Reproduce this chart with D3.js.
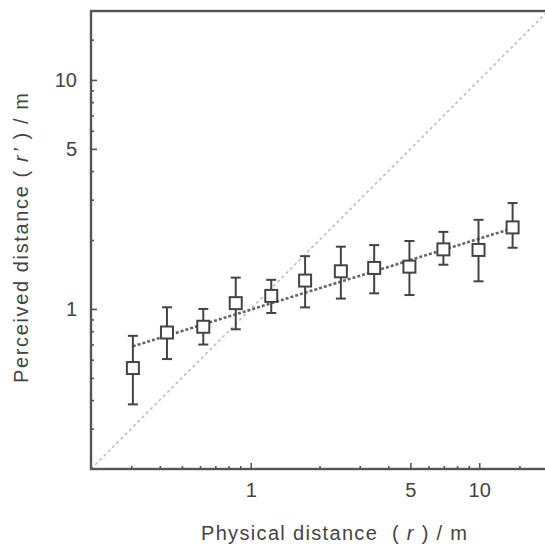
<!DOCTYPE html>
<html lang="en">
<head>
<meta charset="UTF-8">
<title>Perceived vs physical distance</title>
<script src="https://d3js.org/d3.v7.min.js"></script>
<style>
  body { margin: 0; background: #fff; }
  svg { font-family: "Liberation Sans", Arial, sans-serif; }
</style>
</head>
<body>
<div id="chart"></div>
<script>
// physical distance r (m) of each condition
var physical = [0.305, 0.43, 0.62, 0.86, 1.23, 1.73, 2.48, 3.47, 4.95, 6.97, 9.93, 14.0];
// perceived distance r' (m): mean and error bar ends
var perceived = [0.552, 0.789, 0.836, 1.06, 1.14, 1.33, 1.46, 1.51, 1.53, 1.82, 1.81, 2.27];
var upper = [0.763, 1.017, 1.0, 1.37, 1.34, 1.70, 1.87, 1.90, 1.98, 2.17, 2.45, 2.90];
var lower = [0.383, 0.604, 0.699, 0.815, 0.96, 1.016, 1.11, 1.17, 1.15, 1.56, 1.32, 1.85];
// fitted power function, drawn between its end points
var fitX = [0.305, 14.0];
var fitY = [0.687, 2.25];
// axis ticks
var majorTicks = [1, 5, 10];
var minorTicks = [0.3, 0.4, 0.5, 0.6, 0.7, 0.8, 0.9, 2, 3, 4, 6, 7, 8, 9, 15];

var width = 545, height = 548;
var margin = {top: 11, right: -3, bottom: 79, left: 91};

var svg = d3.select("#chart").append("svg")
    .attr("width", width).attr("height", height);

var x = d3.scaleLog().domain([0.2, 20]).range([margin.left, width - margin.right]);
var y = d3.scaleLog().domain([0.2, 20]).range([height - margin.bottom, margin.top]);

var axisColor = "#555";
var inkColor = "#444";

// y = x reference line
svg.append("line")
    .attr("x1", x(0.2)).attr("y1", y(0.2))
    .attr("x2", x(20)).attr("y2", y(20))
    .attr("stroke", "#bdbdbd")
    .attr("stroke-width", 1.6)
    .attr("stroke-dasharray", "3,3");

// fit line
svg.append("line")
    .attr("x1", x(fitX[0])).attr("y1", y(fitY[0]))
    .attr("x2", x(fitX[1])).attr("y2", y(fitY[1]))
    .attr("stroke", "#666")
    .attr("stroke-width", 2.6)
    .attr("stroke-dasharray", "3,2");

// frame
svg.append("rect")
    .attr("x", x(0.2)).attr("y", y(20))
    .attr("width", x(20) - x(0.2))
    .attr("height", y(0.2) - y(20))
    .attr("fill", "none")
    .attr("stroke", axisColor)
    .attr("stroke-width", 2.4);

// axes: ticks point inward
function styleAxis(g) {
    g.select(".domain").remove();
    g.selectAll(".tick line").attr("stroke", axisColor).attr("stroke-width", 1.6);
    g.selectAll(".tick text").attr("fill", inkColor).attr("font-size", 20);
}

svg.append("g")
    .attr("transform", "translate(0," + y(0.2) + ")")
    .call(d3.axisBottom(x).tickValues(majorTicks).tickFormat(d3.format("d"))
        .tickSize(-6).tickSizeOuter(0).tickPadding(14))
    .call(styleAxis);

svg.append("g")
    .attr("transform", "translate(0," + y(0.2) + ")")
    .call(d3.axisBottom(x).tickValues(minorTicks).tickFormat("")
        .tickSize(-3).tickSizeOuter(0))
    .call(styleAxis);

svg.append("g")
    .attr("transform", "translate(" + x(0.2) + ",0)")
    .call(d3.axisLeft(y).tickValues(majorTicks).tickFormat(d3.format("d"))
        .tickSize(-6).tickSizeOuter(0).tickPadding(14))
    .call(styleAxis);

svg.append("g")
    .attr("transform", "translate(" + x(0.2) + ",0)")
    .call(d3.axisLeft(y).tickValues(minorTicks).tickFormat("")
        .tickSize(-3).tickSizeOuter(0))
    .call(styleAxis);

// error bars
var capW = 5;
var bars = svg.append("g")
    .attr("stroke", inkColor)
    .attr("stroke-width", 2)
    .attr("fill", "none");

physical.forEach(function(r, i) {
    var cx = x(r);
    bars.append("line")
        .attr("x1", cx).attr("x2", cx)
        .attr("y1", y(upper[i])).attr("y2", y(lower[i]));
    bars.append("line")
        .attr("x1", cx - capW).attr("x2", cx + capW)
        .attr("y1", y(upper[i])).attr("y2", y(upper[i]));
    bars.append("line")
        .attr("x1", cx - capW).attr("x2", cx + capW)
        .attr("y1", y(lower[i])).attr("y2", y(lower[i]));
});

// square markers
var box = 12;
svg.append("g").selectAll("rect")
    .data(physical)
    .join("rect")
    .attr("x", function(d) { return x(d) - box / 2; })
    .attr("y", function(d, i) { return y(perceived[i]) - box / 2; })
    .attr("width", box).attr("height", box)
    .attr("fill", "#fff")
    .attr("stroke", inkColor)
    .attr("stroke-width", 2);

// axis titles
var xt = svg.append("text")
    .attr("x", 201).attr("y", 540)
    .attr("font-size", 20)
    .attr("textLength", 266)
    .attr("lengthAdjust", "spacing")
    .attr("fill", inkColor);
xt.append("tspan").text("Physical distance\u00a0\u00a0( ");
xt.append("tspan").attr("font-style", "italic").text("r");
xt.append("tspan").text(" ) / m");

var yt = svg.append("text")
    .attr("transform", "translate(28,383) rotate(-90)")
    .attr("font-size", 20)
    .attr("textLength", 290)
    .attr("lengthAdjust", "spacing")
    .attr("fill", inkColor);
yt.append("tspan").text("Perceived distance ( ");
yt.append("tspan").attr("font-style", "italic").text("r\u2019");
yt.append("tspan").text(" ) / m");
</script>
</body>
</html>
